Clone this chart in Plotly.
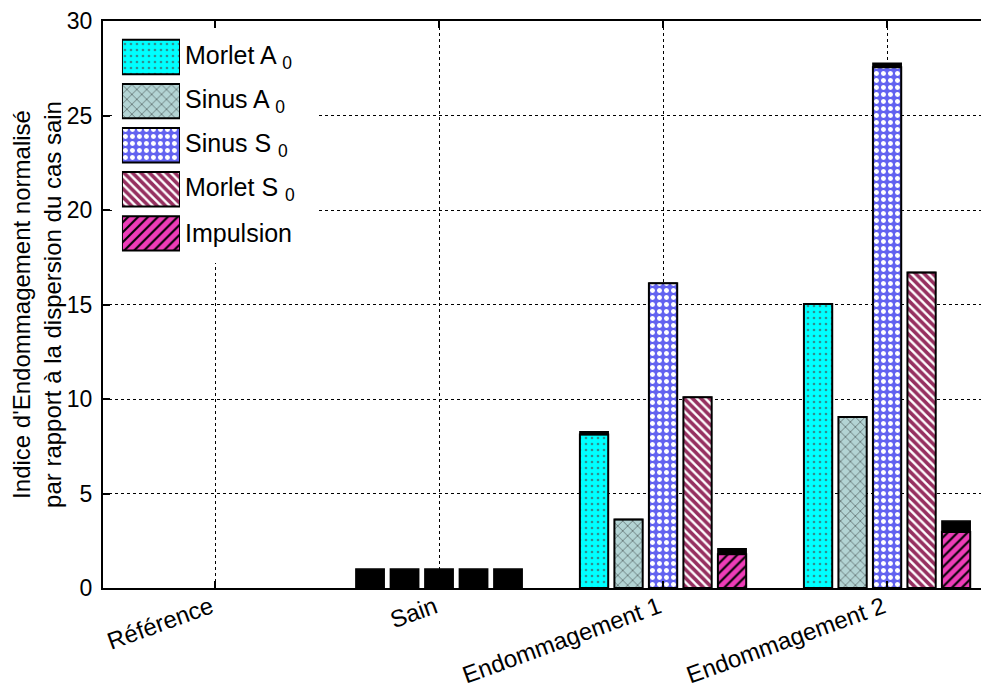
import plotly.graph_objects as go

categories = ["Référence", "Sain", "Endommagement 1", "Endommagement 2"]

series_names = ["Morlet A0", "Sinus A0", "Sinus S0", "Morlet S0", "Impulsion"]
legend_labels = ["Morlet A <sub>0</sub>", "Sinus A <sub>0</sub>", "Sinus S <sub>0</sub>",
                 "Morlet S <sub>0</sub>", "Impulsion"]

# coloured (patterned) part of each bar (no bar for "Référence")
morlet_a0 = [None, 0, 8.12, 15.03]
sinus_a0 = [None, 0, 3.63, 9.05]
sinus_s0 = [None, 0, 16.13, 27.55]
morlet_s0 = [None, 0, 10.09, 16.69]
impulsion = [None, 0, 1.78, 2.96]

# black part stacked on top
cap_morlet_a0 = [None, 1.0, 0.15, 0.0]
cap_sinus_a0 = [None, 1.0, 0.0, 0.0]
cap_sinus_s0 = [None, 1.0, 0.0, 0.22]
cap_morlet_s0 = [None, 1.0, 0.0, 0.0]
cap_impulsion = [None, 1.0, 0.30, 0.58]

values = [morlet_a0, sinus_a0, sinus_s0, morlet_s0, impulsion]
caps = [cap_morlet_a0, cap_sinus_a0, cap_sinus_s0, cap_morlet_s0, cap_impulsion]

styles = [
    dict(bgcolor="#00ffff", fgcolor="#2f8f8f", shape=".", size=6, solidity=0.15),
    dict(bgcolor="#b3d4d4", fgcolor="#4a5656", shape="x", size=7, solidity=0.18),
    dict(bgcolor="#6262f0", fgcolor="#ffffff", shape=".", size=7, solidity=0.4),
    dict(bgcolor="#ffffff", fgcolor="#963060", shape="\\", size=6, solidity=0.6),
    dict(bgcolor="#ee3cb8", fgcolor="#000000", shape="/", size=7, solidity=0.3),
]

FONT = "Liberation Sans, Arial, Helvetica, sans-serif"

fig = go.Figure()

for name, vals, cap, st in zip(series_names, values, caps, styles):
    fig.add_trace(go.Bar(
        x=categories, y=vals, name=name, offsetgroup=name,
        marker=dict(color=st["bgcolor"], line=dict(color="black", width=2),
                    pattern=dict(shape=st["shape"], fgcolor=st["fgcolor"],
                                 bgcolor=st["bgcolor"], size=st["size"],
                                 solidity=st["solidity"], fillmode="replace")),
        showlegend=False, hoverinfo="skip",
    ))
    fig.add_trace(go.Bar(
        x=categories, y=cap, base=vals, name=name + " (dispersion)", offsetgroup=name,
        marker=dict(color="black", line=dict(color="black", width=1.5)),
        showlegend=False, hoverinfo="skip",
    ))

# custom legend patches (large, patterned) on a small inset axis
for name, lab, st in zip(series_names, legend_labels, styles):
    fig.add_trace(go.Bar(
        x=[1], y=[name], orientation="h", xaxis="x2", yaxis="y2",
        offsetgroup="legend", width=0.78,
        marker=dict(color=st["bgcolor"], line=dict(color="black", width=2),
                    pattern=dict(shape=st["shape"], fgcolor=st["fgcolor"],
                                 bgcolor=st["bgcolor"], size=st["size"],
                                 solidity=st["solidity"], fillmode="replace")),
        showlegend=False, hoverinfo="skip",
    ))
    fig.add_annotation(
        x=0.0905, xref="paper", y=name, yref="y2", text=lab, showarrow=False,
        xanchor="left", yanchor="middle", font=dict(size=25, family=FONT, color="black"),
    )

fig.add_shape(type="rect", xref="x", yref="y", x0=-0.46, x1=0.46, y0=17.2, y1=29.7,
              fillcolor="white", line=dict(width=0), layer="between")

fig.update_layout(
    width=989, height=691,
    margin=dict(l=95, r=8, t=13, b=111),
    barmode="group", bargap=0.23, bargroupgap=0.18,
    plot_bgcolor="white", paper_bgcolor="white",
    showlegend=False,
    font=dict(family=FONT, size=22, color="black"),
    xaxis=dict(
        type="category", categoryorder="array", categoryarray=categories,
        range=[-0.5, 3.455], domain=[0, 1], automargin=False,
        showline=True, linecolor="black", linewidth=2, mirror="ticks",
        ticks="inside", ticklen=7, tickwidth=1.5, tickcolor="black",
        showgrid=True, gridcolor="black", griddash="dot", gridwidth=1,
        tickangle=-20, tickfont=dict(size=24, family=FONT, color="black"),
        ticklabelstandoff=-6, ticklabelshift=-4,
        zeroline=False, fixedrange=True,
    ),
    yaxis=dict(
        range=[0, 30], tick0=0, dtick=5, domain=[0, 1], automargin=False,
        showline=True, linecolor="black", linewidth=2,
        ticks="inside", ticklen=7, tickwidth=1.5, tickcolor="black",
        showgrid=True, gridcolor="black", griddash="dot", gridwidth=1,
        zeroline=False, tickfont=dict(size=23, family=FONT, color="black"),
        ticklabelstandoff=4,
        title=dict(text="Indice d'Endommagement normalisé<br>par rapport à la dispersion du cas sain",
                   font=dict(size=24, family=FONT, color="black"), standoff=2),
        fixedrange=True,
    ),
    xaxis2=dict(domain=[0.0214, 0.0869], anchor="y2", range=[0, 1], visible=False,
                fixedrange=True),
    yaxis2=dict(domain=[0.5866, 0.9753], anchor="x2", type="category",
                categoryorder="array", categoryarray=series_names,
                range=[4.5, -0.5], visible=False, fixedrange=True),
)

fig.write_html("out.html")
